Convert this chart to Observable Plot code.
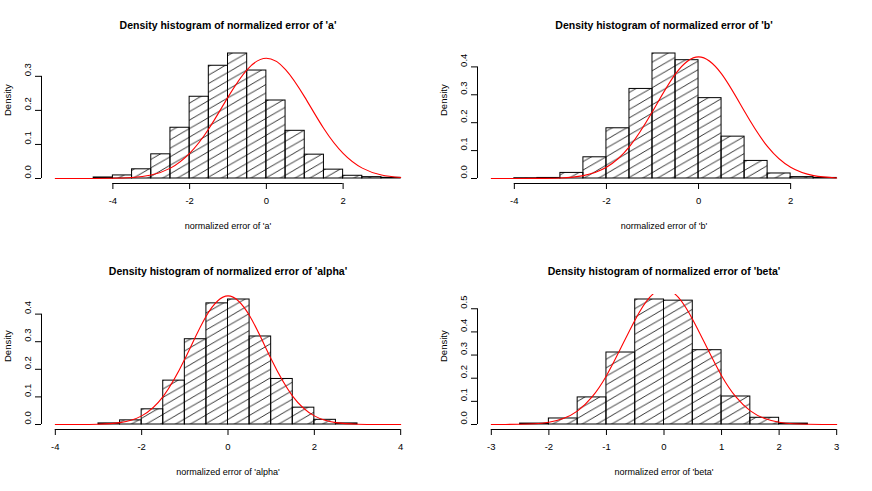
<!DOCTYPE html>
<html><head><meta charset="utf-8">
<script src="https://cdn.jsdelivr.net/npm/d3@7"></script>
<script src="https://cdn.jsdelivr.net/npm/@observablehq/plot@0.6"></script>
<style>
html,body{margin:0;padding:0;background:#fff;}
#grid{display:grid;grid-template-columns:436px 436px;width:872px;}
#grid svg{display:block;}
</style></head><body>
<svg width="0" height="0" style="position:absolute">
<defs>
<pattern id="hatch" patternUnits="userSpaceOnUse" x="0" y="0" width="14.72" height="8.5">
<path d="M-1,0.577L15.72,-9.077M-1,9.077L15.72,-0.577M-1,17.577L15.72,7.923" stroke="#000" stroke-width="0.8" fill="none"/>
</pattern></defs></svg>
<div id="grid"></div>
<script>
// ---- panel 'a'
const aTitle = "Density histogram of normalized error of 'a'";
const aXLabel = "normalized error of 'a'";
const aXlim = [-5.5, 3.5];
const aBreaks = [-4.5, -4, -3.5, -3, -2.5, -2, -1.5, -1, -0.5, 0, 0.5, 1, 1.5, 2, 2.5, 3, 3.5];
const aDensity = [0.003, 0.009, 0.027, 0.071, 0.149, 0.240, 0.331, 0.367, 0.317, 0.229, 0.140, 0.070, 0.026, 0.008, 0.004, 0.002];
const aCurveX = [-5.5, -5, -4.5, -4, -3.5, -3, -2.5, -2, -1.5, -1, -0.5, 0, 0.5, 1, 1.5, 2, 2.5, 3, 3.5];
const aCurveY = [0, 0, 0.0001, 0.0007, 0.0029, 0.0104, 0.0305, 0.0738, 0.146, 0.239, 0.320, 0.353, 0.320, 0.239, 0.146, 0.0738, 0.0305, 0.0104, 0.0029];
const aXTicks = [-4, -2, 0, 2];
const aYTicks = [0, 0.1, 0.2, 0.3];

// ---- panel 'b'
const bTitle = "Density histogram of normalized error of 'b'";
const bXLabel = "normalized error of 'b'";
const bXlim = [-4.5, 3];
const bBreaks = [-4, -3.5, -3, -2.5, -2, -1.5, -1, -0.5, 0, 0.5, 1, 1.5, 2, 2.5, 3];
const bDensity = [0.001, 0.002, 0.020, 0.076, 0.180, 0.321, 0.448, 0.424, 0.288, 0.150, 0.063, 0.018, 0.005, 0.002];
const bCurveX = [-4.5, -4, -3.5, -3, -2.5, -2, -1.5, -1, -0.5, 0, 0.5, 1, 1.5, 2, 2.5, 3];
const bCurveY = [0, 0, 0.0003, 0.002, 0.0104, 0.040, 0.114, 0.240, 0.375, 0.436, 0.375, 0.240, 0.114, 0.040, 0.0104, 0.002];
const bXTicks = [-4, -2, 0, 2];
const bYTicks = [0, 0.1, 0.2, 0.3, 0.4];

// ---- panel 'alpha'
const alphaTitle = "Density histogram of normalized error of 'alpha'";
const alphaXLabel = "normalized error of 'alpha'";
const alphaXlim = [-4, 4];
const alphaBreaks = [-3, -2.5, -2, -1.5, -1, -0.5, 0, 0.5, 1, 1.5, 2, 2.5, 3];
const alphaDensity = [0.004, 0.015, 0.055, 0.159, 0.309, 0.439, 0.453, 0.319, 0.165, 0.061, 0.017, 0.004];
const alphaCurveX = [-4, -3.5, -3, -2.5, -2, -1.5, -1, -0.5, 0, 0.5, 1, 1.5, 2, 2.5, 3, 3.5, 4];
const alphaCurveY = [0, 0.0001, 0.0011, 0.0068, 0.0312, 0.102, 0.237, 0.394, 0.466, 0.394, 0.237, 0.102, 0.0312, 0.0068, 0.0011, 0.0001, 0];
const alphaXTicks = [-4, -2, 0, 2, 4];
const alphaYTicks = [0, 0.1, 0.2, 0.3, 0.4];

// ---- panel 'beta'
const betaTitle = "Density histogram of normalized error of 'beta'";
const betaXLabel = "normalized error of 'beta'";
const betaXlim = [-3, 3];
const betaBreaks = [-2.5, -2, -1.5, -1, -0.5, 0, 0.5, 1, 1.5, 2, 2.5];
const betaDensity = [0.004, 0.026, 0.117, 0.311, 0.540, 0.535, 0.321, 0.121, 0.029, 0.004];
const betaCurveX = [-3, -2.75, -2.5, -2.25, -2, -1.75, -1.5, -1.25, -1, -0.75, -0.5, -0.25, 0, 0.25, 0.5, 0.75, 1, 1.25, 1.5, 1.75, 2, 2.25, 2.5, 2.75, 3];
const betaCurveY = [0.0001, 0.0003, 0.0010, 0.0033, 0.0099, 0.0257, 0.059, 0.119, 0.211, 0.330, 0.453, 0.549, 0.585, 0.549, 0.453, 0.330, 0.211, 0.119, 0.059, 0.0257, 0.0099, 0.0033, 0.0010, 0.0003, 0.0001];
const betaXTicks = [-3, -2, -1, 0, 1, 2, 3];
const betaYTicks = [0, 0.1, 0.2, 0.3, 0.4, 0.5];

const panels = [
  {title: aTitle, xLabel: aXLabel, xlim: aXlim, breaks: aBreaks, density: aDensity, cx: aCurveX, cy: aCurveY, xTicks: aXTicks, yTicks: aYTicks, row: 0},
  {title: bTitle, xLabel: bXLabel, xlim: bXlim, breaks: bBreaks, density: bDensity, cx: bCurveX, cy: bCurveY, xTicks: bXTicks, yTicks: bYTicks, row: 0},
  {title: alphaTitle, xLabel: alphaXLabel, xlim: alphaXlim, breaks: alphaBreaks, density: alphaDensity, cx: alphaCurveX, cy: alphaCurveY, xTicks: alphaXTicks, yTicks: alphaYTicks, row: 1},
  {title: betaTitle, xLabel: betaXLabel, xlim: betaXlim, breaks: betaBreaks, density: betaDensity, cx: betaCurveX, cy: betaCurveY, xTicks: betaXTicks, yTicks: betaYTicks, row: 1}
];

const fmt1 = d3.format(".1f");

function panel(p) {
  const bins = p.density.map((d, i) => ({x1: p.breaks[i], x2: p.breaks[i + 1], y1: 0, y2: d}));
  const curve = p.cx.map((x, i) => ({x, y: p.cy[i]}));
  const ymax = d3.max(p.density);
  const yDom = [-0.04 * ymax, 1.04 * ymax];
  const xr = p.xlim[1] - p.xlim[0];
  const xDom = [p.xlim[0] - 0.04 * xr, p.xlim[1] + 0.04 * xr];
  const top = p.row === 0 ? 48 : 49;
  return Plot.plot({
    width: 436,
    height: p.row === 0 ? 245 : 246,
    marginLeft: 41, marginRight: 22, marginTop: top, marginBottom: 62,
    x: {domain: xDom},
    y: {domain: yDom},
    style: {fontFamily: "'Liberation Sans', Arial, sans-serif", fontSize: "9.5px", background: "white", color: "black", overflow: "visible"},
    marks: [
      Plot.rect(bins, {x1: "x1", x2: "x2", y1: "y1", y2: "y2", fill: "url(#hatch)", stroke: "#000", strokeWidth: 1, inset: 0}),
      Plot.line(curve, {x: "x", y: "y", stroke: "red", strokeWidth: 1.1, curve: "natural", clip: true}),
      Plot.ruleY([yDom[0]], {x1: p.xTicks[0], x2: p.xTicks[p.xTicks.length - 1], stroke: "#000"}),
      Plot.ruleX([xDom[0]], {y1: p.yTicks[0], y2: p.yTicks[p.yTicks.length - 1], stroke: "#000"}),
      Plot.axisX(p.xTicks, {tickSize: 6, tickPadding: 8, tickFormat: d => String(d), fontSize: 9.5, label: null}),
      Plot.axisY(p.yTicks, {tickSize: 6, tickFormat: () => "", label: null}),
      Plot.text(p.yTicks, {y: d => d, text: d => fmt1(d), frameAnchor: "left", dx: -14, rotate: -90, fontSize: 9.5}),
      Plot.text([p.title], {frameAnchor: "top", dy: -27, fontWeight: "bold", fontSize: 10.5}),
      Plot.text([p.xLabel], {frameAnchor: "bottom", dy: 45, fontSize: 9}),
      Plot.text(["Density"], {frameAnchor: "left", dx: -34, rotate: -90, fontSize: 9.5})
    ]
  });
}

const grid = document.getElementById("grid");
for (const p of panels) grid.appendChild(panel(p));
</script>
</body></html>
